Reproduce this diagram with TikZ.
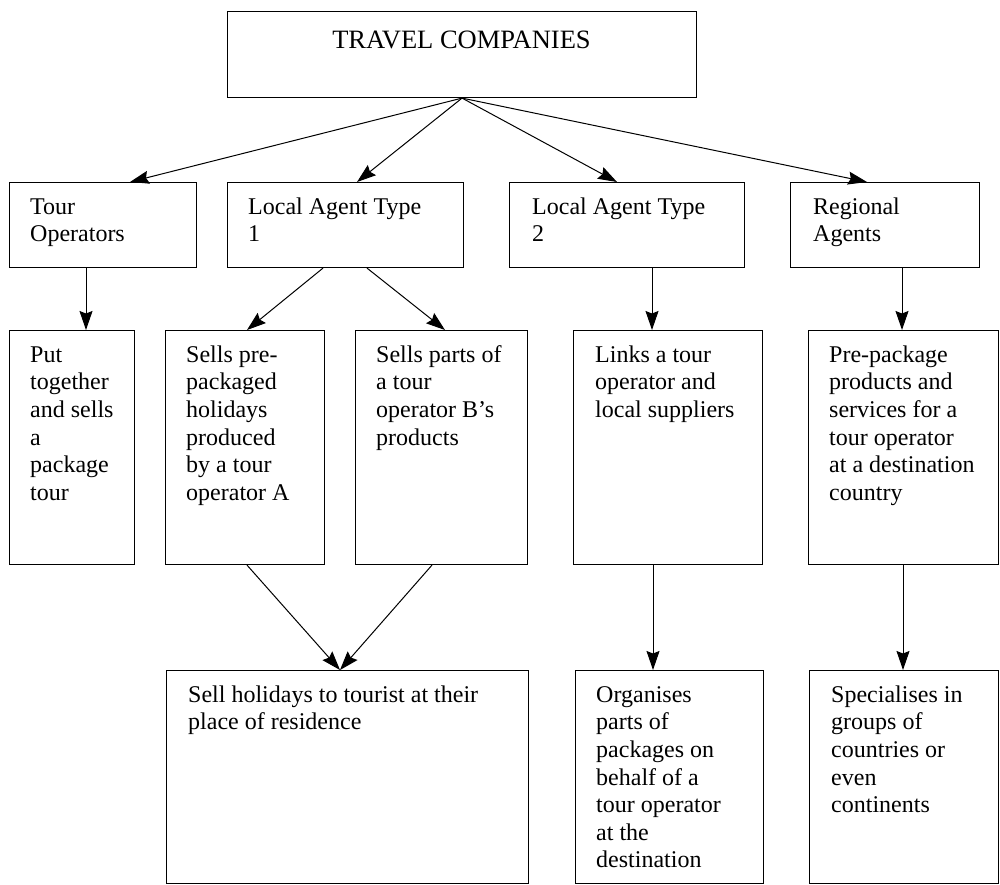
\documentclass[tikz,border=0pt]{standalone}
\usepackage{fontspec}
\setmainfont{Liberation Serif}
\usetikzlibrary{arrows.meta}
\tikzset{
  box/.style={draw, line width=1.1pt, rectangle, inner sep=0pt, anchor=north west},
  lbl/.style={inner sep=0pt, anchor=north west, align=left,
              font=\fontsize{24}{27.6}\selectfont},
  link/.style={line width=1pt, -{Stealth[length=19pt,width=13pt,inset=2.5pt]}},
}
% name, left, top, width, height, text inset, text
\newcommand\card[7]{%
  \node[box, minimum width=#4pt, minimum height=#5pt] (#1) at (#2,#3) {};
  \node[lbl] (#1text) at ([xshift=#6pt,yshift=-12.7pt]#1.north west) {\strut #7};
}
\begin{document}
\begin{tikzpicture}[x=1pt,y=-1pt]
\useasboundingbox (0,0) rectangle (1000,885);

% root
\node[box, minimum width=469pt, minimum height=86pt] (top) at (227,11) {};
\node[inner sep=0pt, anchor=base, font=\fontsize{26.5}{30}\selectfont] (toptext)
  at (461.5,49) {TRAVEL COMPANIES};

% second row: kinds of company
\card{tour}{9}{182}{187}{85}{21}{Tour\\Operators}
\card{laone}{227}{182}{236}{85}{21}{Local Agent Type\\1}
\card{latwo}{509}{182}{235}{85}{23}{Local Agent Type\\2}
\card{reg}{790}{182}{189}{85}{23}{Regional\\Agents}

% third row: what each one does
\card{put}{9}{330}{125}{234}{21}{Put\\together\\and sells\\a\\package\\tour}
\card{pre}{165}{330}{159}{234}{21}{Sells pre-\\packaged\\holidays\\produced\\by a tour\\operator A}
\card{parts}{355}{330}{172}{234}{21}{Sells parts of\\a tour\\operator B’s\\products}
\card{links}{573}{330}{189}{234}{22}{Links a tour\\operator and\\local suppliers}
\card{pkg}{808}{330}{190}{234}{21}{Pre-package\\products and\\services for a\\tour operator\\at a destination\\country}

% fourth row
\card{sell}{166}{670}{362}{213}{22}{Sell holidays to tourist at their\\place of residence}
\card{org}{575}{670}{188}{213}{21}{Organises\\parts of\\packages on\\behalf of a\\tour operator\\at the\\destination}
\card{spec}{809}{670}{189}{213}{22}{Specialises in\\groups of\\countries or\\even\\continents}

% connectors
\draw[link] (top.south) -- ([xshift=121pt]tour.north west);
\draw[link] (top.south) -- ([xshift=130pt]laone.north west);
\draw[link] (top.south) -- ([xshift=108pt]latwo.north west);
\draw[link] (top.south) -- ([xshift=77pt]reg.north west);

\draw[link] ([xshift=77pt]tour.south west) -- ([xshift=77pt]put.north west);
\draw[link] ([xshift=96pt]laone.south west) -- ([xshift=82pt]pre.north west);
\draw[link] ([xshift=140pt]laone.south west) -- ([xshift=90pt]parts.north west);
\draw[link] ([xshift=143pt]latwo.south west) -- ([xshift=79pt]links.north west);
\draw[link] ([xshift=112pt]reg.south west) -- ([xshift=94pt]pkg.north west);

\draw[link] ([xshift=82pt]pre.south west) -- ([xshift=174pt]sell.north west);
\draw[link] ([xshift=77pt]parts.south west) -- ([xshift=174pt]sell.north west);
\draw[link] ([xshift=80pt]links.south west) -- ([xshift=78pt]org.north west);
\draw[link] ([xshift=95pt]pkg.south west) -- ([xshift=94pt]spec.north west);
\end{tikzpicture}
\end{document}
